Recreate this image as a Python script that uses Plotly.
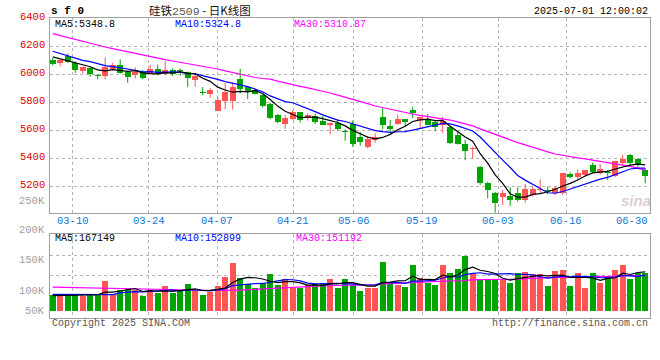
import plotly.graph_objects as go

# ---------------- data ----------------
dates = ["03-05","03-06","03-07","03-10","03-11","03-12","03-13","03-14","03-17","03-18",
         "03-19","03-20","03-21","03-24","03-25","03-26","03-27","03-28","03-31",
         "04-01","04-02","04-03","04-07","04-08","04-09","04-10","04-11","04-14","04-15",
         "04-16","04-17","04-18","04-21","04-22","04-23","04-24","04-25","04-28","04-29","04-30",
         "05-06","05-07","05-08","05-09","05-12","05-13","05-14","05-15","05-16","05-19",
         "05-20","05-21","05-22","05-23","05-26","05-27","05-28","05-29","05-30",
         "06-03","06-04","06-05","06-06","06-09","06-10","06-11","06-12","06-13","06-16",
         "06-17","06-18","06-19","06-20","06-23","06-24","06-25","06-26","06-27","06-30",
         "07-01"]

opens = [6100, 6079, 6133, 6081, 6021, 6045, 5990, 5986, 6036, 6069,
         6017, 5998, 6017, 6002, 6040, 6005, 6031, 6026, 6019, 5960,
         5871, 5860, 5738, 5812, 5812, 5967, 5907, 5890, 5852, 5788,
         5710, 5645, 5681, 5731, 5688, 5702, 5667, 5640, 5652, 5593,
         5645, 5550, 5483, 5531, 5693, 5631, 5645, 5681, 5745, 5674,
         5674, 5660, 5636, 5626, 5567, 5502, 5464, 5340, 5226, 5155,
         5126, 5131, 5150, 5100, 5138, 5176, 5174, 5150, 5150, 5288,
         5264, 5283, 5352, 5297, 5300, 5274, 5369, 5424, 5393, 5316]
highs = [6117, 6104, 6148, 6093, 6052, 6050, 6002, 6121, 6081, 6107,
         6024, 6050, 6031, 6069, 6069, 6093, 6043, 6043, 6019, 6007,
         5910, 5900, 5840, 5938, 5943, 6038, 5907, 5900, 5857, 5798,
         5717, 5710, 5745, 5731, 5721, 5721, 5702, 5655, 5679, 5607,
         5669, 5590, 5555, 5578, 5757, 5674, 5712, 5681, 5769, 5698,
         5717, 5669, 5698, 5633, 5598, 5531, 5483, 5345, 5233, 5160,
         5174, 5193, 5193, 5217, 5197, 5250, 5197, 5202, 5297, 5300,
         5321, 5316, 5369, 5359, 5316, 5383, 5424, 5431, 5400, 5328]
lows = [6064, 6057, 6081, 6010, 6005, 5983, 5964, 5964, 6031, 6005,
        5940, 5969, 5964, 6002, 5993, 5998, 5988, 5990, 5910, 5910,
        5852, 5833, 5738, 5752, 5748, 5864, 5824, 5857, 5762, 5679,
        5650, 5610, 5674, 5655, 5669, 5645, 5638, 5574, 5598, 5526,
        5483, 5490, 5471, 5512, 5607, 5579, 5640, 5626, 5686, 5614,
        5640, 5593, 5579, 5502, 5498, 5388, 5400, 5210, 5114, 5012,
        5067, 5060, 5090, 5083, 5126, 5150, 5145, 5138, 5138, 5257,
        5245, 5269, 5293, 5283, 5245, 5266, 5352, 5352, 5340, 5221]
closes = [6076, 6102, 6088, 6029, 6052, 6000, 5988, 6055, 6069, 6012,
          5983, 6014, 5976, 6036, 6005, 6029, 6000, 6024, 5976, 5990,
          5867, 5890, 5817, 5876, 5910, 5895, 5874, 5862, 5776, 5690,
          5662, 5690, 5733, 5674, 5712, 5662, 5638, 5655, 5612, 5590,
          5502, 5517, 5536, 5550, 5640, 5612, 5681, 5660, 5721, 5698,
          5640, 5626, 5669, 5512, 5502, 5455, 5469, 5226, 5174, 5083,
          5150, 5102, 5102, 5179, 5178, 5178, 5169, 5190, 5297, 5269,
          5297, 5316, 5300, 5321, 5297, 5383, 5393, 5364, 5352, 5274]
volumes = [67400, 67400, 71700, 71700, 64500, 67400, 67400, 129000, 71700, 88800,
           98900, 88800, 64500, 88800, 77400, 106000, 77400, 84500, 114600, 88800,
           68800, 78800, 106000, 146200, 206400, 141900, 114600, 98900, 120400, 157600,
           110300, 136100, 98900, 96000, 110300, 113200, 120400, 136100, 98900, 136100,
           110300, 84500, 98900, 98900, 210700, 121800, 110300, 101700, 196300, 141900,
           117500, 110300, 196300, 163400, 179100, 235000, 160500, 131800, 136100, 136100,
           131800, 120400, 163400, 166200, 156200, 156200, 106000, 170500, 174800, 106000,
           163400, 98900, 163400, 120400, 150500, 174800, 196300, 136100, 163400, 163400]

# moving-average values before enough history is on screen
ma5_head = [6125, 6110, 6098, 6080]
ma10_head = [6165, 6148, 6135, 6118, 6100, 6090, 6074, 6062, 6055]
ma30_head = [6290, 6276, 6262, 6248, 6234, 6220, 6207, 6195, 6184, 6172,
             6161, 6150, 6139, 6127, 6116, 6105, 6095, 6086, 6076, 6067,
             6057, 6047, 6038, 6025, 6012, 5998, 5985, 5977, 5970]
vma5_head = [64500, 65000, 66000, 67000]
vma10_head = [70000, 70000, 69500, 69000, 68500, 68000, 67500, 68000, 69000]
vma30_head = [101000, 100500, 100000, 99500, 99000, 98500, 98000, 97500, 97000, 96500,
              96000, 95500, 95000, 94500, 94000, 93000, 92000, 91000, 90000, 89000,
              88000, 87000, 86500, 86500, 87000, 88500, 90500, 92500, 94500]

price_ticks = [5000, 5200, 5400, 5600, 5800, 6000, 6200, 6400]
date_ticks = ["03-10", "03-24", "04-07", "04-21", "05-06", "05-19", "06-03", "06-16", "06-30"]
vol_tick_labels = ["200K", "150K", "100K", "50K"]
main_legend = [("MA5:5348.8", "#000000"), ("MA10:5324.8", "#0000FF"), ("MA30:5310.87", "#FF00FF")]
vol_legend = [("MA5:167149", "#000000"), ("MA10:152899", "#0000FF"), ("MA30:151192", "#FF00FF")]

# ---------------- geometry (window pixels) ----------------
W, H = 660, 360
PX_L, PX_R = 50, 650
MAIN_TOP, MAIN_BOT = 18.3, 213.3
VOL_TOP, VOL_BOT, VOL_BASE = 234.3, 318.0, 310.7
C0, STEP = 52.7, 7.5
P_PER_PX = 200 / 28.0
VK = 4300.0

RED = "#FF5555"
GREEN = "#00A400"
MONO = "Liberation Mono, DejaVu Sans Mono, monospace"


def fx(px):
    return px / W


def fy(py):
    return 1 - py / H


def sma(vals, n, head):
    out = list(head)
    for i in range(len(head), len(vals)):
        out.append(sum(vals[i - n + 1:i + 1]) / n)
    return out


n = len(closes)
idx = list(range(n))
up = [c >= o for o, c in zip(opens, closes)]
colors = [RED if u else GREEN for u in up]

ma5 = sma(closes, 5, ma5_head)
ma10 = sma(closes, 10, ma10_head)
ma30 = sma(closes, 30, ma30_head)
vma5 = sma(volumes, 5, vma5_head)
vma10 = sma(volumes, 10, vma10_head)
vma30 = sma(volumes, 30, vma30_head)

fig = go.Figure()

# wicks
for col, flag in ((RED, True), (GREEN, False)):
    wx, wy = [], []
    for i in idx:
        if up[i] == flag:
            wx += [i, i, None]
            wy += [lows[i], highs[i], None]
    fig.add_trace(go.Scatter(x=wx, y=wy, mode="lines", line=dict(color=col, width=1),
                             hoverinfo="skip", xaxis="x", yaxis="y"))

# bodies
bases = [min(o, c) for o, c in zip(opens, closes)]
heights = [max(abs(c - o), 7) for o, c in zip(opens, closes)]
fig.add_trace(go.Bar(x=idx, y=heights, base=bases, width=0.76,
                     marker=dict(color=colors, line=dict(width=0)),
                     xaxis="x", yaxis="y"))

for series, col in ((ma30, "#FF00FF"), (ma10, "#0000FF"), (ma5, "#000000")):
    fig.add_trace(go.Scatter(x=idx, y=series, mode="lines", line=dict(color=col, width=1.2),
                             xaxis="x", yaxis="y"))

# volume
fig.add_trace(go.Bar(x=idx, y=volumes, width=0.8,
                     marker=dict(color=colors, line=dict(width=0)),
                     xaxis="x2", yaxis="y2"))
for series, col in ((vma30, "#FF00FF"), (vma10, "#0000FF"), (vma5, "#000000")):
    fig.add_trace(go.Scatter(x=idx, y=series, mode="lines", line=dict(color=col, width=1.2),
                             xaxis="x2", yaxis="y2"))

# ---------------- axes ----------------
x_range = [(PX_L - C0) / STEP, (PX_R - C0) / STEP]
y_range = [6400 - (MAIN_BOT - MAIN_TOP) * P_PER_PX, 6400]
v_range = [-(VOL_BOT - VOL_BASE) * VK, (VOL_BASE - VOL_TOP) * VK]

grid_px = [PX_L + dates.index(d) * 600.0 / 79 for d in date_ticks]
grid_vals = [(g - C0) / STEP for g in grid_px[:-1]]

axis_common = dict(showline=True, linecolor="#A0A0A0", linewidth=1, mirror=True,
                   zeroline=False, ticks="", showticklabels=False,
                   showgrid=True, gridcolor="#B4B4B4", griddash="dot", gridwidth=1)

fig.update_layout(
    width=W, height=H,
    margin=dict(l=0, r=0, t=0, b=0),
    paper_bgcolor="white", plot_bgcolor="white",
    showlegend=False, bargap=0, barmode="overlay",
    xaxis=dict(domain=[fx(PX_L), fx(PX_R)], range=x_range, anchor="y",
               tickmode="array", tickvals=grid_vals, **axis_common),
    yaxis=dict(domain=[fy(MAIN_BOT), fy(MAIN_TOP)], range=y_range, anchor="x",
               tickmode="array", tickvals=price_ticks[1:-1], **axis_common),
    xaxis2=dict(domain=[fx(PX_L), fx(PX_R)], range=x_range, anchor="y2",
                tickmode="array", tickvals=grid_vals, **axis_common),
    yaxis2=dict(domain=[fy(VOL_BOT), fy(VOL_TOP)], range=v_range, anchor="x2",
                tickmode="array",
                tickvals=[(VOL_BASE - py) * VK for py in (295.3, 275.3, 255.3)],
                **axis_common),
)

ann = []


def txt(text, x, y, color, size=10, xanchor="left", family=MONO, yref="paper", **kw):
    ann.append(dict(text=text, x=x, y=y, xref="paper", yref=yref, xanchor=xanchor,
                    yanchor="middle", showarrow=False,
                    font=dict(family=family, size=size, color=color), **kw))


# price labels
for v in price_ticks:
    txt(str(v), fx(46.5), v, "#E00000", size=10.5, xanchor="right", yref="y", yshift=1.5)
txt("250K", fx(46.5), fy(200.7), "#A0A0A0", size=10.5, xanchor="right")

# date labels
for d, g in zip(date_ticks, grid_px):
    if g > 630:
        txt(d, fx(649.5), fy(220.5), "#0A78D2", size=10.5, xanchor="right")
    else:
        txt(d, fx(g), fy(220.5), "#0A78D2", size=10.5, xanchor="center")

# volume labels
for lab, py in zip(vol_tick_labels, (230.0, 260.0, 290.7, 310.7)):
    txt(lab, fx(46.5), fy(py), "#A0A0A0", size=10.5, xanchor="right")

# legends
for (t, c), px in zip(main_legend, (54.0, 174.3, 293.3)):
    txt(t, fx(px), fy(24.2), c, size=10, borderpad=0)
for (t, c), px in zip(vol_legend, (54.0, 174.3, 295.0)):
    txt(t, fx(px), fy(238.7), c, size=10, borderpad=0)

# header
txt("<b>s f 0</b>", fx(48.5), fy(11.0), "#000000", size=11)
txt('硅铁<span style="font-family:Liberation Mono;color:#555555">2509</span> - 日K线图',
    fx(200), fy(9.8), "#111111", size=11.5, xanchor="center",
    family="Noto Sans CJK SC, sans-serif", borderpad=0)
txt("2025-07-01 12:00:02", fx(650), fy(12.0), "#000000", size=10, xanchor="right")

# footer
txt("Copyright 2025 SINA.COM", fx(49.5), fy(323.7), "#555555", size=10)
txt("http://finance.sina.com.cn", fx(650), fy(323.7), "#555555", size=10, xanchor="right")

# watermark
txt("<b><i>sina</i></b>", fx(636), fy(200), "rgba(190,160,160,0.55)", size=15,
    xanchor="center", family="Liberation Sans, Arial, sans-serif")

fig.update_layout(annotations=ann)
fig.write_html("out.html",
               config={"displayModeBar": False, "staticPlot": True},
               post_script="document.body.style.margin='0';document.body.style.overflow='hidden';")
